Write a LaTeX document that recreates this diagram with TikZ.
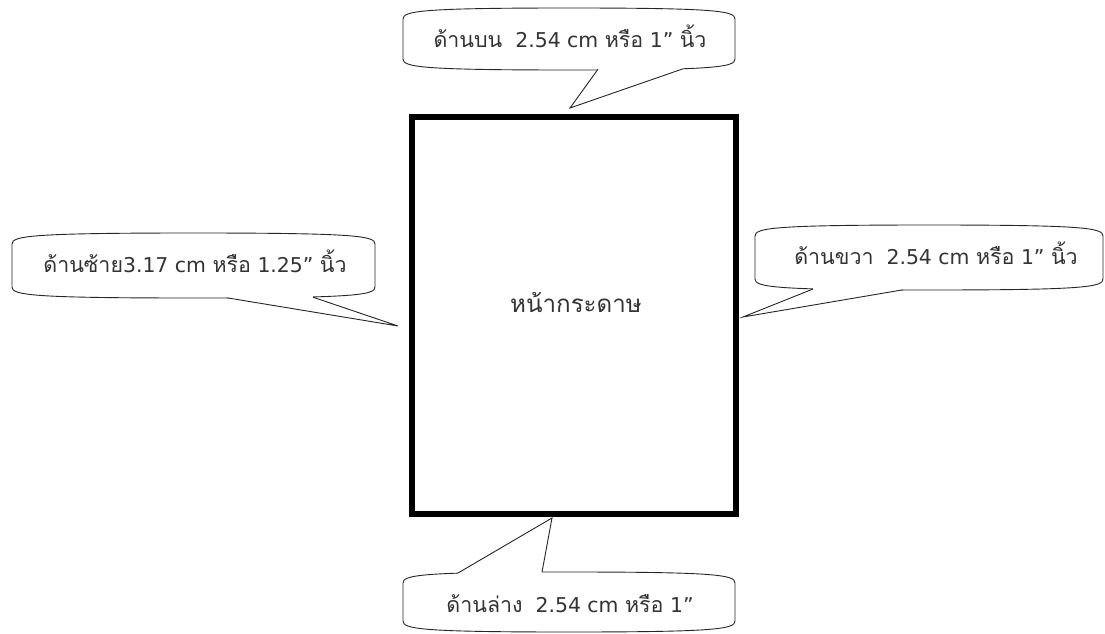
\documentclass[tikz,border=0pt]{standalone}
\usepackage{fontspec}
\setmainfont{DejaVu Sans}
\newfontfamily\thaifont[Script=Thai, Scale=1.05]{Loma}
\newcommand\thtxt[1]{{\thaifont #1}}
\tikzset{
  bubble/.style={draw=black!85, line width=0.9pt, fill=white},
  ptrline/.style={draw=black!85, line width=0.9pt, line join=miter},
  lbl/.style={font=\fontsize{20.4}{24}\selectfont, text=black!80, anchor=base, inner sep=0pt},
  biglbl/.style={lbl, font=\fontsize{23}{27}\selectfont},
  pagebox/.style={draw=black, line width=6pt, minimum width=324pt, minimum height=397pt, inner sep=0pt}
}
% bulged rounded box: L T R B  (y grows downward)
\newcommand\bubblebox[4]{%
  \path[bubble] ({#1},{#2+11}) .. controls ({#1},{#2+3}) and ({#1+18},{#2}) .. ({(#1+#3)/2},{#2})
    .. controls ({#3-18},{#2}) and ({#3},{#2+3}) .. ({#3},{#2+11})
    -- ({#3},{#4-11}) .. controls ({#3},{#4-3}) and ({#3-18},{#4}) .. ({(#1+#3)/2},{#4})
    .. controls ({#1+18},{#4}) and ({#1},{#4-3}) .. ({#1},{#4-11}) -- cycle;}
% pointer: base1, tip, base2, inner1, inner2
\newcommand\pointer[5]{%
  \fill[white] #4 -- #1 -- #2 -- #3 -- #5 -- cycle;
  \draw[ptrline] #1 -- #2 -- #3;}
\begin{document}
\begin{tikzpicture}[x=1pt,y=-1pt]
\useasboundingbox[fill=white] (0,0) rectangle (1105,634);
% paper
\node[pagebox] (page) at (574,315.5) {};
\node[biglbl] (pagetxt) at (576,312) {\thtxt{หน้ากระดาษ}};
% top
\bubblebox{403}{8}{735}{70}
\pointer{(598,69.2)}{(570,108)}{(683,68.8)}{(598,63)}{(683,63)}
\node[lbl] (toptxt) at (570,48) {\thtxt{ด้านบน}\ \ 2.54 cm \thtxt{หรือ} 1” \thtxt{นิ้ว}};
% left
\bubblebox{12}{233}{375}{298}
\pointer{(227,297.8)}{(398,326)}{(313,297.2)}{(227,291)}{(313,291)}
\node[lbl] (lefttxt) at (195,272) {\thtxt{ด้านซ้าย}3.17 cm \thtxt{หรือ} 1.25” \thtxt{นิ้ว}};
% right
\bubblebox{755}{225}{1103}{290}
\pointer{(813,289)}{(743,317)}{(903,289.8)}{(813,283)}{(903,283)}
\node[lbl] (righttxt) at (936,264) {\thtxt{ด้านขวา}\ \ 2.54 cm \thtxt{หรือ} 1” \thtxt{นิ้ว}};
% bottom
\bubblebox{403}{572}{735}{632}
\pointer{(458,573)}{(552,518)}{(542,572.2)}{(458,579)}{(542,579)}
\node[lbl] (bottxt) at (570,612) {\thtxt{ด้านล่าง}\ \ 2.54 cm \thtxt{หรือ} 1”};
\end{tikzpicture}
\end{document}
